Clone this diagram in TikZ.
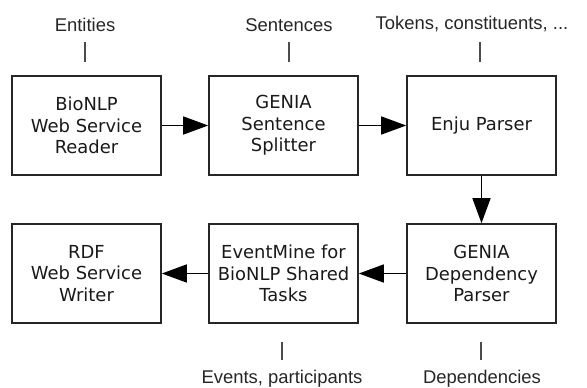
\documentclass[tikz,border=0pt]{standalone}
\usepackage{fontspec}
\setmainfont{DejaVu Sans}
\newfontfamily\labelfont{Liberation Sans}
\usetikzlibrary{arrows.meta}
\begin{document}
\begin{tikzpicture}[x=1bp,y=-1bp,
  procbox/.style={draw=black!85, line width=1.6bp, minimum width=149bp, minimum height=99bp,
    align=center, inner sep=0pt, font=\fontsize{18}{21.5}\selectfont, text=black!90},
  datalabel/.style={anchor=base, inner sep=0pt, font=\labelfont\fontsize{18.5}{22}\selectfont, text=black!85},
  tick/.style={draw=black!70, line width=1.2bp},
  flow/.style={draw=black, line width=1.5bp, -{Triangle[length=25bp,width=18bp]}}]
\useasboundingbox (0,0) rectangle (587,387);
\node[procbox] (reader) at (86.5,125.5) {BioNLP\\Web Service\\Reader};
\node[procbox] (splitter) at (283.5,125.5) {GENIA\\Sentence\\Splitter};
\node[procbox] (enju) at (481.5,125.5) {Enju Parser};
\node[procbox] (writer) at (86.5,273.5) {RDF\\Web Service\\Writer};
\node[procbox] (eventmine) at (283.5,273.5) {EventMine for\\BioNLP Shared\\Tasks};
\node[procbox] (dep) at (481.5,273.5) {GENIA\\Dependency\\Parser};
\draw[flow] (reader) -- (splitter);
\draw[flow] (splitter) -- (enju);
\draw[flow] (enju) -- (dep);
\draw[flow] (dep) -- (eventmine);
\draw[flow] (eventmine) -- (writer);
\node[datalabel] (lent) at (85,31) {Entities};
\node[datalabel] (lsent) at (289,31) {Sentences};
\node[datalabel] (ltok) at (472,29) {Tokens, constituents, ...};
\node[datalabel] (lev) at (282,383) {Events, participants};
\node[datalabel] (ldep) at (482,383) {Dependencies};
\coordinate (t1a) at (85,42); \coordinate (t1b) at (85,62);
\coordinate (t2a) at (289,42); \coordinate (t2b) at (289,62);
\coordinate (t3a) at (480,42); \coordinate (t3b) at (480,62);
\coordinate (t4a) at (282,342); \coordinate (t4b) at (282,360);
\coordinate (t5a) at (481,342); \coordinate (t5b) at (481,360);
\draw[tick] (t1a) -- (t1b);
\draw[tick] (t2a) -- (t2b);
\draw[tick] (t3a) -- (t3b);
\draw[tick] (t4a) -- (t4b);
\draw[tick] (t5a) -- (t5b);
\end{tikzpicture}
\end{document}
